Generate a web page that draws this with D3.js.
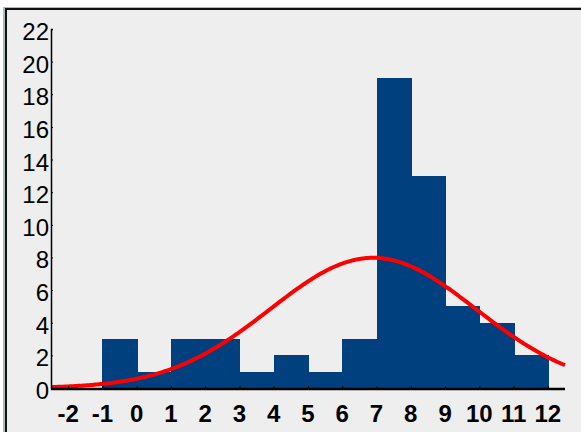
<!DOCTYPE html>
<html><head><meta charset="utf-8">
<script src="https://cdn.jsdelivr.net/npm/d3@7"></script>
<style>html,body{margin:0;padding:0;background:#fff;}</style>
</head><body>
<svg id="c" width="581" height="432"></svg>
<script>
const binStarts = [-1, 0, 1, 2, 3, 4, 5, 6, 7, 8, 9, 10, 11];
const counts    = [ 3, 1, 3, 3, 1, 2, 1, 3, 19, 13, 5, 4, 2];
const xTicks = [-2,-1,0,1,2,3,4,5,6,7,8,9,10,11,12];
const yTicks = [0,2,4,6,8,10,12,14,16,18,20,22];
const fitMean = 6.9, fitSd = 3.0;
const binWidth = 1;

const svg = d3.select("#c");
// frame
svg.append("rect").attr("x",3).attr("y",7).attr("width",600).attr("height",440).attr("fill","#a9bcc0");
svg.append("rect").attr("x",5).attr("y",8).attr("width",600).attr("height",440).attr("fill","#111");
svg.append("rect").attr("x",7).attr("y",10).attr("width",600).attr("height",440).attr("fill","#eeeeee");

const x = d3.scaleLinear().domain([-2.5,12.5]).range([51,565]);
const y = d3.scaleLinear().domain([0,22]).range([388,29]);

svg.append("g").attr("shape-rendering","crispEdges").selectAll("rect").data(binStarts).join("rect")
  .attr("x", (d)=>Math.round(x(d))).attr("width",(d)=>Math.round(x(d+binWidth))-Math.round(x(d))+1)
  .attr("y",(d,i)=>Math.round(y(counts[i]))).attr("height",(d,i)=>388-Math.round(y(counts[i])))
  .attr("fill","#00407f");

const n = d3.sum(counts);
const pts = d3.range(0,301).map(i=>{const xv=-2.5+i*15/300; const z=(xv-fitMean)/fitSd; return [xv, n*binWidth*Math.exp(-0.5*z*z)/(fitSd*Math.sqrt(2*Math.PI))];});
svg.append("path").datum(pts)
  .attr("d", d3.line().x(d=>x(d[0])).y(d=>y(d[1])))
  .attr("fill","none").attr("stroke","#ff0000").attr("stroke-width",4);

// axes
const yAxis = d3.axisRight(y).tickValues(yTicks).tickSize(2).tickFormat("");
const gy = svg.append("g").attr("transform","translate(51,0)").call(yAxis);
gy.select(".domain").attr("stroke","#000").attr("stroke-width",1.5);
gy.selectAll("text").remove();
svg.append("g").selectAll("text").data(yTicks).join("text")
  .attr("x",49).attr("y",d=>y(d)+11).attr("text-anchor","end")
  .attr("font-family","Liberation Sans, Arial, sans-serif").attr("font-size",24).attr("fill","#000")
  .text(d=>d);

const xAxis = d3.axisTop(x).tickValues(xTicks).tickSize(3).tickFormat("");
const gx = svg.append("g").attr("transform","translate(0,389)").call(xAxis);
gx.select(".domain").attr("stroke","#000").attr("stroke-width",2.5).attr("d","M51,0H565");
svg.append("g").selectAll("text").data(xTicks).join("text")
  .attr("x",d=>x(d)).attr("y",422).attr("text-anchor","middle")
  .attr("font-family","Liberation Sans, Arial, sans-serif").attr("font-weight","bold").attr("font-size",24).attr("fill","#000")
  .text(d=>d);
</script>
</body></html>
